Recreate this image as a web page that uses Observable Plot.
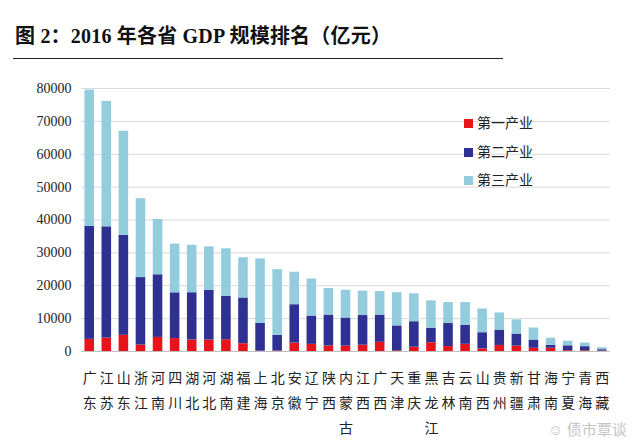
<!DOCTYPE html>
<html>
<head>
<meta charset="utf-8">
<script src="https://cdn.jsdelivr.net/npm/d3@7"></script>
<script src="https://cdn.jsdelivr.net/npm/@observablehq/plot@0.6"></script>
<style>
  html, body { margin: 0; padding: 0; background: #fff; }
  #page { position: relative; width: 640px; height: 443px; overflow: hidden; background: #fff; }
  #head { position: relative; height: 60px; }
  #title { position: absolute; left: 15px; top: 20px; font: bold 20px 'Liberation Serif', 'Noto Sans CJK SC', serif; color: #111; white-space: nowrap; letter-spacing: 0.2px; }
  #rule { position: absolute; left: 13px; top: 58px; width: 490px; height: 1px; background: #222; }
  .leg { position: absolute; left: 464px; font: 14px 'Noto Sans CJK SC', serif; color: #222; line-height: 16px; white-space: nowrap; }
  .leg i { display: inline-block; width: 9px; height: 9px; margin-right: 4px; vertical-align: 0px; }
  #wm { position: absolute; left: 548px; top: 418px; font: 15px 'Noto Sans CJK SC', sans-serif; color: #c4c4c4; white-space: nowrap; }
</style>
</head>
<body>
<div id="page">
  <div id="head">
    <div id="title">图 2：2016 年各省 GDP 规模排名（亿元）</div>
    <div id="rule"></div>
  </div>
  <div id="chart"></div>
  <div id="legend"></div>
  <div id="wm">☺ 债市覃谈</div>
</div>
<script>
const provinces = ["广东","江苏","山东","浙江","河南","四川","湖北","河北","湖南","福建","上海","北京","安徽","辽宁","陕西","内蒙古","江西","广西","天津","重庆","黑龙江","吉林","云南","山西","贵州","新疆","甘肃","海南","宁夏","青海","西藏"];
const sectors = ["第一产业","第二产业","第三产业"];
const primary   = [3694, 4078, 4929, 1966, 4286, 3925, 3499, 3493, 3579, 2364, 110, 130, 2568, 2173, 1693, 1628, 1905, 2796, 220, 1303, 2670, 1499, 2195, 785, 1847, 1649, 973, 1000, 240, 222, 116];
const secondary = [34372, 33855, 30410, 20518, 19055, 13925, 14375, 15058, 13182, 13912, 8406, 4774, 11666, 8606, 9391, 8554, 9032, 8274, 7572, 7756, 4442, 7005, 5800, 4926, 4669, 3648, 2516, 896, 1489, 1250, 429];
const tertiary  = [41446, 38153, 31669, 24001, 16820, 14831, 14424, 13277, 14484, 12243, 19663, 19995, 9884, 11259, 8081, 8450, 7427, 7175, 10093, 8500, 8274, 6382, 6875, 7218, 5218, 4320, 3663, 2150, 1421, 1100, 604];
const yTicks = [0, 10000, 20000, 30000, 40000, 50000, 60000, 70000, 80000];
const colors = ["#e8141c", "#2e3192", "#93cddd"];

const rows = [];
provinces.forEach((p, i) => {
  [primary, secondary, tertiary].forEach((arr, k) => rows.push({province: p, sector: sectors[k], value: arr[i]}));
});

const chart = Plot.plot({
  width: 640,
  height: 383,
  marginTop: 28,
  marginBottom: 92,
  marginLeft: 81,
  marginRight: 30,
  style: {fontFamily: "'Liberation Serif', 'Noto Sans CJK SC', serif", background: "white", color: "#222"},
  x: {domain: provinces, paddingInner: 0.44, paddingOuter: 0.2, round: false, label: null},
  y: {domain: [0, 80000], label: null},
  color: {domain: sectors, range: colors},
  marks: [
    Plot.gridY(yTicks, {stroke: "#d9d9d9", strokeOpacity: 1}),
    Plot.barY(rows, {x: "province", y: "value", fill: "sector", order: sectors}),
    Plot.ruleY([0], {stroke: "#bfbfbf"}),
    Plot.axisY(yTicks, {tickSize: 0, tickPadding: 10, fontSize: 14, tickFormat: d3.format("d"), label: null}),
    Plot.axisX({tickSize: 0, tickPadding: 14, fontSize: 14, lineHeight: 1.78, fontFamily: "'Noto Sans CJK SC', serif", tickFormat: d => d.split("").join("\n"), label: null})
  ]
});
document.getElementById("chart").appendChild(chart);

const legend = document.getElementById("legend");
sectors.forEach((s, k) => {
  const d = document.createElement("div");
  d.className = "leg";
  d.style.top = (114 + k * 28.5) + "px";
  d.innerHTML = `<i style="background:${colors[k]}"></i>${s}`;
  legend.appendChild(d);
});
</script>
</body>
</html>
